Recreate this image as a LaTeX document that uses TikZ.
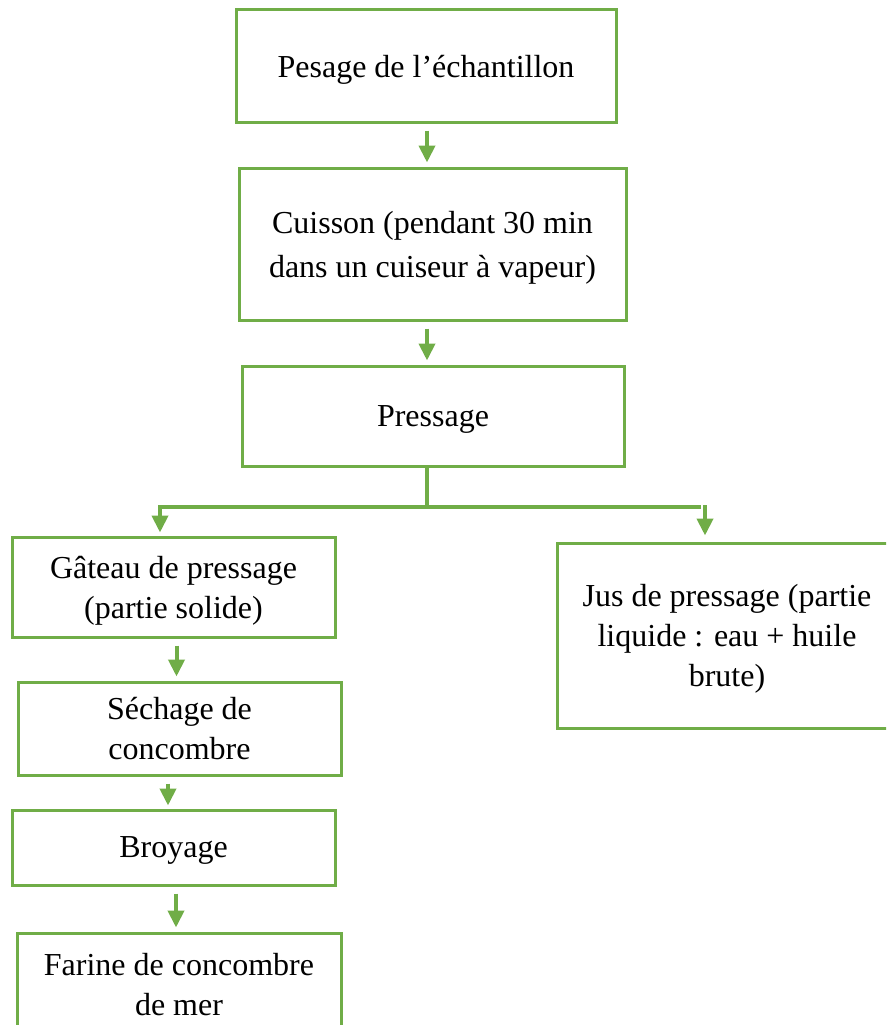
\documentclass[tikz,border=0pt]{standalone}
\usepackage{fontspec}
\setmainfont{Liberation Serif}
\usetikzlibrary{arrows.meta}
\definecolor{leaf}{RGB}{112,173,71}
\begin{document}
\begin{tikzpicture}[x=1pt,y=-1pt,
    box/.style={draw=leaf, line width=3pt, align=center, inner sep=0pt, text depth=-2pt,
      font=\fontsize{32}{40}\selectfont},
    flow/.style={leaf, line width=4pt, -{Triangle[length=17pt,width=16pt]}},
    link/.style={leaf, line width=4.5pt}]
  \useasboundingbox (0,0) rectangle (886,1025);
  \clip (0,0) rectangle (886,1025);
  % boites
  \node[box, minimum width=380pt, minimum height=112pt] (pesage) at (426,66) {Pesage de l'échantillon};
  \node[box, minimum width=387pt, minimum height=152pt, text depth=-6pt] (cuisson) at (432.5,244) {Cuisson (pendant 30 min\\[4pt]dans un cuiseur à vapeur)};
  \node[box, minimum width=382pt, minimum height=100pt] (pressage) at (433,416) {Pressage};
  \node[box, minimum width=323pt, minimum height=100pt] (gateau) at (173.5,587) {Gâteau de pressage\\(partie solide)};
  \node[box, minimum width=340pt, minimum height=185pt] (jus) at (727,635.5) {Jus de pressage (partie\\liquide : eau + huile\\brute)};
  \node[box, minimum width=323pt, minimum height=93pt, text depth=-15pt] (sechage) at (179.5,728.5) {Séchage de\\concombre};
  \node[box, minimum width=323pt, minimum height=75pt] (broyage) at (173.5,847.5) {Broyage};
  \node[box, minimum width=324pt, minimum height=102pt, text depth=-7pt] (farine) at (179,984) {Farine de concombre\\de mer};
  % fleches
  \draw[flow] ([xshift=1pt,yshift=-7pt]pesage.south) -- ([xshift=1pt,yshift=4pt]pesage.south |- cuisson.north);
  \draw[flow] ([xshift=-5.5pt,yshift=-7pt]cuisson.south) -- ([xshift=-5.5pt,yshift=4pt]cuisson.south |- pressage.north);
  \coordinate (split) at (427,507);
  \draw[link] ([xshift=-6pt]pressage.south) -- (split);
  \draw[flow] ([xshift=2pt]split) -| ([xshift=-13.5pt,yshift=3pt]gateau.north);
  \draw[link] ([xshift=-2pt]split) -- (701,507);
  \draw[flow] (705,505) -- ([xshift=-22pt,yshift=6pt]jus.north);
  \draw[flow] ([xshift=3pt,yshift=-7pt]gateau.south) -- ([xshift=3pt,yshift=4pt]gateau.south |- sechage.north);
  \draw[flow] ([xshift=-11.5pt,yshift=-7pt]sechage.south) -- ([xshift=-11.5pt,yshift=3pt]sechage.south |- broyage.north);
  \draw[flow] ([xshift=2.5pt,yshift=-7pt]broyage.south) -- ([xshift=2.5pt,yshift=4pt]broyage.south |- farine.north);
\end{tikzpicture}
\end{document}
